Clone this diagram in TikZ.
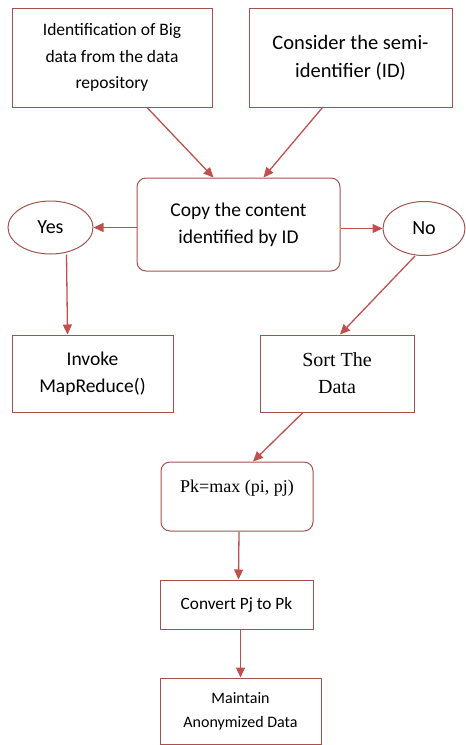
\documentclass[tikz,border=0pt]{standalone}
\usepackage{fontspec}
\setmainfont{Carlito}
\newfontfamily\timesfont{Liberation Serif}
\usetikzlibrary{arrows.meta,shapes.geometric}
\definecolor{boxred}{RGB}{165,82,78}
\definecolor{arrowred}{RGB}{192,80,77}

\begin{document}
\begin{tikzpicture}[x=1pt, y=-1pt,
  box/.style={draw=boxred, line width=1pt, rectangle, align=center, inner sep=2pt},
  rbox/.style={box, rounded corners=9pt},
  oval/.style={draw=boxred, line width=1pt, ellipse, inner sep=0pt},
  flow/.style={draw=arrowred, line width=1.3pt, -{Triangle[length=10pt,width=9pt,fill=arrowred]}}]
	  \useasboundingbox (0,0) rectangle (466,745);
	  % top row
	  \node[box, minimum width=200pt, minimum height=99pt, font=\fontsize{17.5}{26.5}\selectfont] (ident) at (112,57.5) {Identification of Big\\data from the data\\repository};
	  \node[box, minimum width=203pt, minimum height=99pt, font=\fontsize{20.5}{28}\selectfont] (semi) at (350.5,57.5) {Consider the semi-\\identifier (ID)};
	  \node[rbox, minimum width=203pt, minimum height=93pt, font=\fontsize{19.5}{27}\selectfont] (copy) at (238.5,224.5) {Copy the content\\identified by ID};
	  \node[oval, minimum width=85pt, minimum height=53pt, font=\fontsize{20}{24}\selectfont] (yes) at (50.5,227.5) {Yes};
	  \node[oval, minimum width=82pt, minimum height=54pt, font=\fontsize{20}{24}\selectfont] (no) at (424,228.5) {No};
	  % middle row
	  \node[box, minimum width=161pt, minimum height=77pt, font=\fontsize{19.5}{27}\selectfont] (invoke) at (92.5,373.5) {Invoke\\MapReduce()};
	  \node[box, minimum width=154pt, minimum height=77pt, font=\timesfont\fontsize{20}{27}\selectfont] (sort) at (337,373.5) {Sort The\\Data};
	  % bottom column
	  \node[rbox, minimum width=152pt, minimum height=69pt, font=\timesfont\fontsize{18}{20}\selectfont] (pk) at (237,496.5) {Pk=max (pi, pj)\\\mbox{}};
	  \node[box, minimum width=153pt, minimum height=49pt, font=\fontsize{17.3}{22}\selectfont] (convert) at (236.5,604.5) {Convert Pj to Pk};
	  \node[box, minimum width=161pt, minimum height=66pt, font=\fontsize{16}{24}\selectfont] (keep) at (240.5,711) {Maintain\\Anonymized Data};
	  % connectors
	  \draw[flow] ([xshift=35pt]ident.south) -- ([xshift=-25pt]copy.north);
	  \draw[flow] ([xshift=-28pt]semi.south) -- ([xshift=25pt]copy.north);
	  \draw[flow] (copy.west |- yes.east) -- (yes.east);
	  \draw[flow] (copy.east |- no.west) -- (no.west);
	  \draw[flow] ([xshift=16pt]yes.south) -- ([xshift=-25pt]invoke.north);
	  \draw[flow] ([xshift=-9pt]no.south) -- ([xshift=3pt]sort.north);
	  \draw[flow] ([xshift=-34pt]sort.south) -- ([xshift=16pt]pk.north);
	  \draw[flow] ([xshift=2pt]pk.south) -- ([xshift=2pt]convert.north);
	  \draw[flow] ([xshift=4pt]convert.south) -- (keep.north);
	\end{tikzpicture}
\end{document}
